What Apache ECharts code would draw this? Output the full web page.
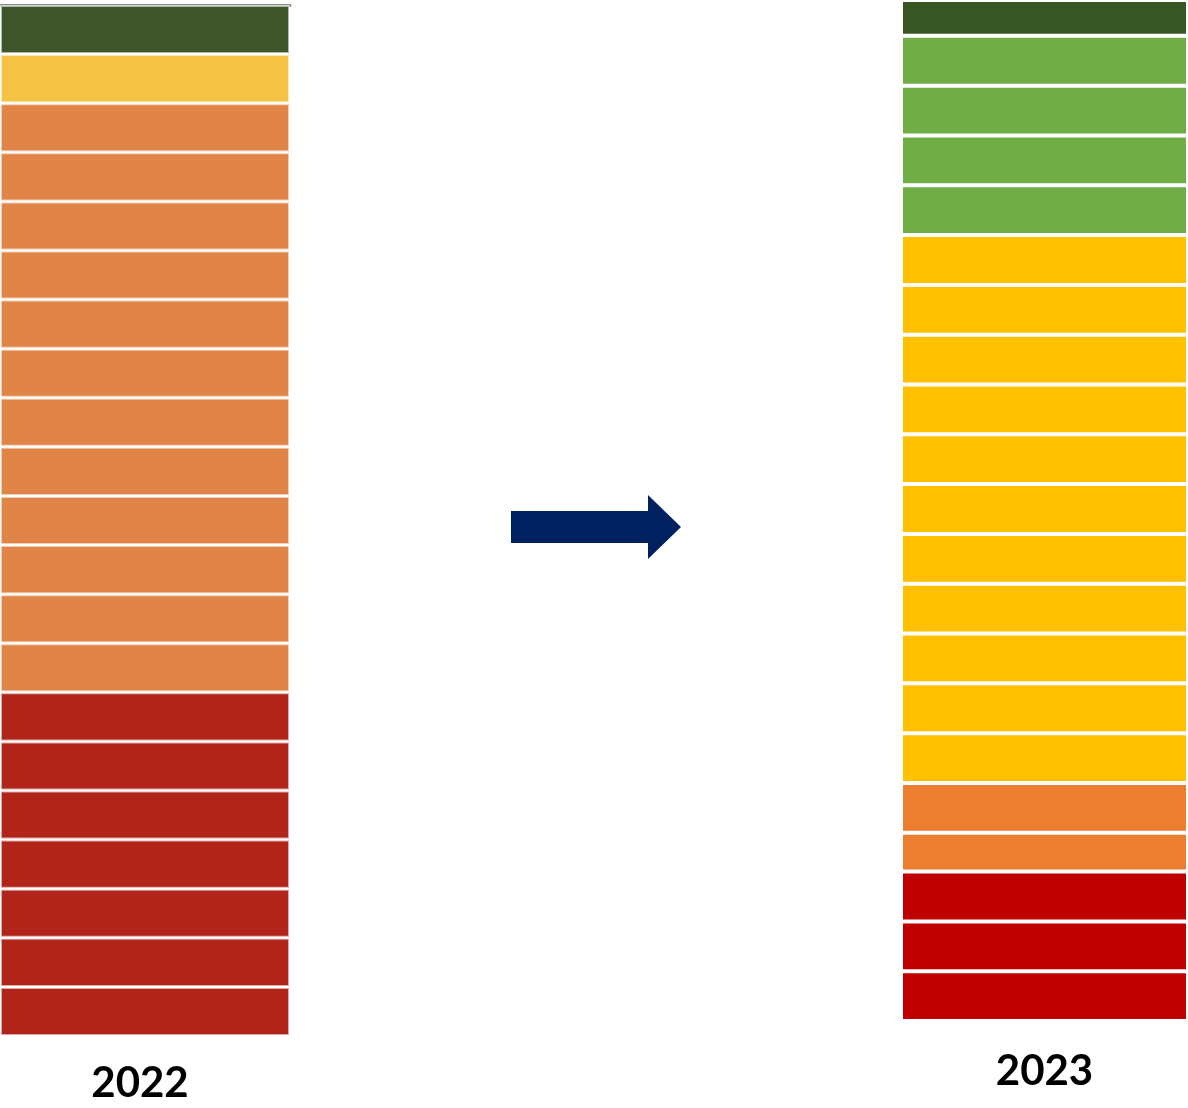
<!DOCTYPE html>
<html>
<head>
<meta charset="utf-8">
<script src="https://cdn.jsdelivr.net/npm/echarts@6/dist/echarts.min.js"></script>
<style>
  html, body { margin: 0; padding: 0; background: #fff; }
  #chart { width: 1188px; height: 1108px; }
</style>
</head>
<body>
<div id="chart"></div>
<script>
// cells listed bottom -> top
var years = ['2022', '2023'];

var values2022 = [1, 1, 1, 1, 1, 1, 1,
                  1, 1, 1, 1, 1, 1, 1, 1, 1, 1, 1, 1,
                  1, 1];
var levels2022 = ['red', 'red', 'red', 'red', 'red', 'red', 'red',
                  'orange', 'orange', 'orange', 'orange', 'orange', 'orange',
                  'orange', 'orange', 'orange', 'orange', 'orange', 'orange',
                  'yellow', 'darkgreen'];

var values2023 = [1, 1, 1,
                  0.78, 1,
                  1, 1, 1, 1, 1, 1, 1, 1, 1, 1, 1,
                  1, 1, 1, 1,
                  0.72];
var levels2023 = ['red', 'red', 'red',
                  'orange', 'orange',
                  'yellow', 'yellow', 'yellow', 'yellow', 'yellow', 'yellow',
                  'yellow', 'yellow', 'yellow', 'yellow', 'yellow',
                  'green', 'green', 'green', 'green',
                  'darkgreen'];

var palette2022 = {
  red: '#b0241a', orange: '#e08447', yellow: '#f4c343', darkgreen: '#3f562b'
};
var palette2023 = {
  red: '#c00000', orange: '#ed7d31', yellow: '#ffc000', green: '#70ad47', darkgreen: '#375623'
};

function sum(a) {
  return a.reduce(function (s, v) { return s + v; }, 0);
}

function columnSeries(idx, values, levels, palette, sepColor) {
  return values.map(function (v, i) {
    return {
      type: 'bar',
      xAxisIndex: idx,
      yAxisIndex: idx,
      stack: 'col' + idx,
      barWidth: '100%',
      silent: true,
      data: [v],
      itemStyle: {
        color: palette[levels[i]],
        borderColor: sepColor,
        borderWidth: 2
      }
    };
  });
}

var labelStyle = {
  fontFamily: 'Lato',
  fontWeight: 'bold',
  fontSize: 42,
  color: '#000'
};

var chart = echarts.init(document.getElementById('chart'), null, { renderer: 'canvas' });

chart.setOption({
  animation: false,
  backgroundColor: '#fff',
  grid: [
    { left: 0, top: 5, width: 290, height: 1031 },
    { left: 901, top: -2, width: 289, height: 1023 }
  ],
  xAxis: [
    {
      type: 'category', gridIndex: 0, data: [years[0]],
      axisLine: { show: false }, axisTick: { show: false },
      axisLabel: Object.assign({ margin: 26, padding: [0, 10, 0, 0] }, labelStyle)
    },
    {
      type: 'category', gridIndex: 1, data: [years[1]],
      axisLine: { show: false }, axisTick: { show: false },
      axisLabel: Object.assign({ margin: 29 }, labelStyle)
    },
    {
      type: 'category', gridIndex: 0, position: 'top', data: [years[0]],
      axisLine: { show: true, lineStyle: { color: '#8a8a8a', width: 3 } },
      axisTick: { show: false }, axisLabel: { show: false }
    }
  ],
  yAxis: [
    { type: 'value', gridIndex: 0, min: 0, max: sum(values2022), show: false },
    { type: 'value', gridIndex: 1, min: 0, max: sum(values2023), show: false }
  ],
  graphic: [{
    type: 'polygon',
    shape: {
      points: [[511, 511], [648, 511], [648, 495], [681, 527], [648, 559], [648, 543], [511, 543]]
    },
    style: { fill: '#002060' }
  }],
  series: columnSeries(0, values2022, levels2022, palette2022, 'rgba(255,255,255,0.6)')
    .concat(columnSeries(1, values2023, levels2023, palette2023, '#ffffff'))
});
</script>
</body>
</html>
